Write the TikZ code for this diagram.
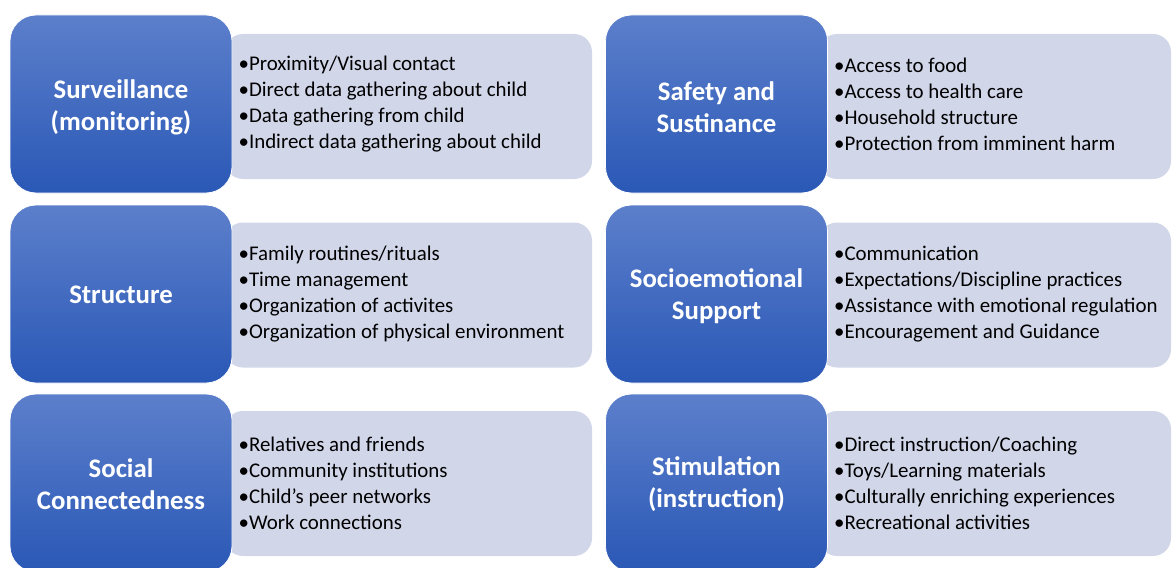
\documentclass[tikz,border=0pt]{standalone}
\usepackage{fontspec}
\setmainfont{Carlito}
\definecolor{blueTop}{RGB}{92,127,203}
\definecolor{blueBot}{RGB}{42,88,182}
\definecolor{listFill}{RGB}{209,214,233}
\tikzset{
	catbox/.style={rounded corners=26pt, top color=blueTop, bottom color=blueBot, draw=white, line width=0.8pt,
		minimum width=222pt, minimum height=178pt, inner sep=0pt},
	cattitle/.style={text=white, align=center, font=\fontsize{26.8}{32}\selectfont\bfseries, inner sep=0pt},
	listbox/.style={rounded corners=18pt, fill=listFill, minimum height=145pt, inner sep=0pt},
	listtext/.style={anchor=west, align=left, font=\fontsize{20.9}{26}\selectfont, inner sep=0pt}
}
\begin{document}
\begin{tikzpicture}[x=1pt,y=-1pt]
		\useasboundingbox (0,0) rectangle (1174,567);
		\clip (0,0) rectangle (1174,567);
		%list backgrounds
		\node[listbox, minimum width=367pt] (survbg)   at (408.5, 106.5) {};
		\node[listbox, minimum width=367pt] (structbg) at (408.5, 295) {};
		\node[listbox, minimum width=367pt] (socialbg) at (408.5, 483.5) {};
		\node[listbox, minimum width=352pt] (safebg)   at (995, 106.5) {};
		\node[listbox, minimum width=352pt] (sociobg)  at (995, 295) {};
		\node[listbox, minimum width=352pt] (stimbg)   at (995, 483.5) {};
		%categories
		\node[catbox] (surv)   at (121, 104) {};
		\node[catbox] (struct) at (121, 294) {};
		\node[catbox] (social) at (121, 483) {};
		\node[catbox] (safe)   at (716.5, 104) {};
		\node[catbox] (socio)  at (716.5, 294) {};
		\node[catbox] (stim)   at (716.5, 483) {};
		\node[cattitle] (survtitle)   at ([yshift=-3pt]surv.center)   {Surveillance\\(monitoring)};
		\node[cattitle] (structtitle) at ([yshift=-1pt]struct.center) {Structure};
		\node[cattitle] (socialtitle) at ([yshift=-1pt]social.center) {Social\\Connectedness};
		\node[cattitle] (safetitle)   at ([yshift=-3pt]safe.center)   {Safety and\\Sustinance};
		\node[cattitle] (sociotitle)  at ([yshift=-2pt]socio.center)  {Socioemotional\\Support};
		\node[cattitle] (stimtitle)   at ([yshift=-1pt]stim.center)   {Stimulation\\(instruction)};
		%items
		\node[listtext] (survlist) at ([xshift=6pt]surv.east) {%
			•Proximity/Visual contact\\•Direct data gathering about child\\
			•Data gathering from child\\•Indirect data gathering about child};
		\node[listtext] (structlist) at ([xshift=6pt]struct.east) {%
			•Family routines/rituals\\•Time management\\
			•Organization of activites\\•Organization of physical environment};
		\node[listtext] (sociallist) at ([xshift=6pt]social.east) {%
			•Relatives and friends\\•Community institutions\\
			•Child's peer networks\\•Work connections};
		\node[listtext] (safelist) at ([xshift=6pt]safe.east) {%
			•Access to food\\•Access to health care\\
			•Household structure\\•Protection from imminent harm};
		\node[listtext] (sociolist) at ([xshift=6pt]socio.east) {%
			•Communication\\•Expectations/Discipline practices\\
			•Assistance with emotional regulation\\•Encouragement and Guidance};
		\node[listtext] (stimlist) at ([xshift=6pt]stim.east) {%
			•Direct instruction/Coaching\\•Toys/Learning materials\\
			•Culturally enriching experiences\\•Recreational activities};
\end{tikzpicture}
\end{document}
